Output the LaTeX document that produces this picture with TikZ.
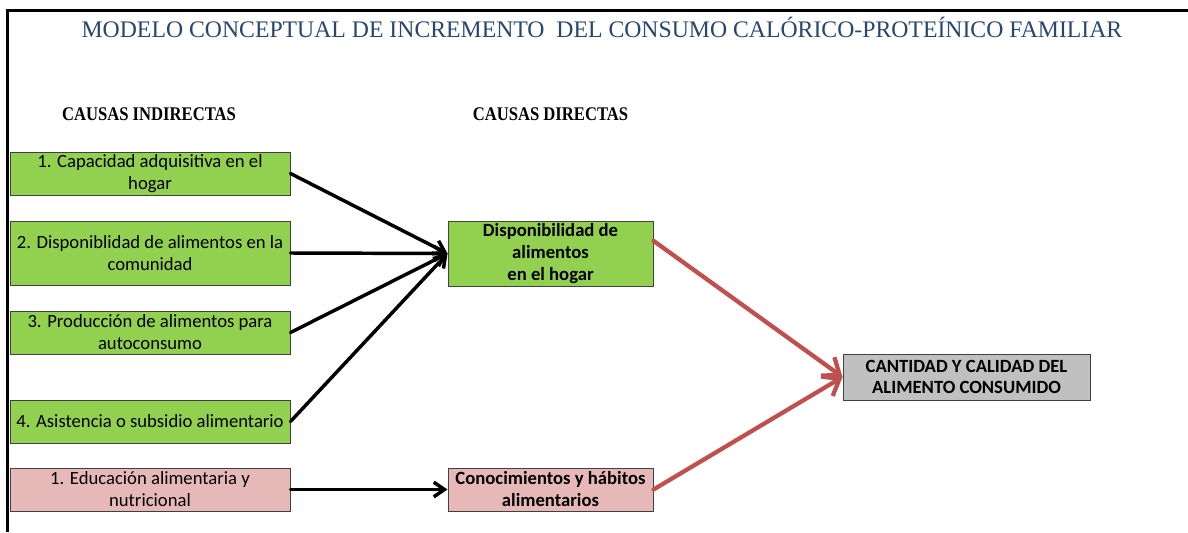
\documentclass[tikz,border=0pt]{standalone}
\usepackage{fontspec}
\setmainfont{Carlito}
\newfontfamily\titulofont{Liberation Serif}
\newfontfamily\causafont[FakeStretch=0.86]{Liberation Serif}
\usetikzlibrary{arrows.meta}

\definecolor{verde}{HTML}{92D050}
\definecolor{rosa}{HTML}{E6B9B8}
\definecolor{gris}{HTML}{C0C0C0}
\definecolor{rojo}{HTML}{C0504D}
\definecolor{azultitulo}{RGB}{40,70,110}

\begin{document}
\begin{tikzpicture}[%
    x=0.75pt, y=-0.75pt,
    caja/.style={draw=black!75, line width=0.75pt, inner sep=0pt, align=center,
                 font=\fontsize{14}{16.5}\selectfont},
    indirecta/.style={caja, fill=verde, minimum width=210pt, minimum height=32.25pt},
    educacion/.style={indirecta, fill=rosa},
    directa/.style={caja, fill=verde, minimum width=153.75pt, minimum height=48.75pt,
                    font=\fontsize{14}{16.5}\selectfont\bfseries},
    resultado/.style={caja, fill=gris, minimum width=185.25pt, minimum height=34.5pt,
                      font=\fontsize{14}{16}\selectfont\bfseries},
    cabecera/.style={font=\causafont\fontsize{14.5}{16}\selectfont\bfseries},
    flecha/.style={-{Straight Barb[length=8pt,width=11pt]}, line width=2.6pt, line cap=round},
    flecharoja/.style={-{Straight Barb[length=11pt,width=17pt]}, draw=rojo,
                       line width=3.2pt, line cap=round}
  ]
    \useasboundingbox (0,0) rectangle (1188,532);

    % marco
    \draw[line width=2.25pt] (1188,10) -- (7.5,10) -- (7.5,532);

    \node[font=\titulofont\fontsize{17.8}{20}\selectfont, text=azultitulo] (T) at (602,27)
      {MODELO CONCEPTUAL DE INCREMENTO\ \ DEL CONSUMO CALÓRICO-PROTEÍNICO FAMILIAR};
    \node[cabecera] (H1) at (149,114) {CAUSAS INDIRECTAS};
    \node[cabecera] (H2) at (550.5,114) {CAUSAS DIRECTAS};

    % causas indirectas
    \node[indirecta] (I1) at (150,173.5) {1. Capacidad adquisitiva en el\\hogar};
    \node[indirecta, minimum height=48pt] (I2) at (150,253) {2. Disponiblidad de alimentos en la\\comunidad};
    \node[indirecta] (I3) at (150,332.5) {3. Producción de alimentos para\\autoconsumo};
    \node[indirecta] (I4) at (150,421.5) {4. Asistencia o subsidio alimentario};
    \node[educacion] (I5) at (150,489.5) {1. Educación alimentaria y\\nutricional};

    % causas directas
    \node[directa] (D1) at (550.5,253.5) {Disponibilidad de\\alimentos\\en el hogar};
    \node[directa, fill=rosa, minimum height=32.25pt] (D2) at (550.5,489.5) {Conocimientos y hábitos\\alimentarios};

    \node[resultado] (R) at (966.5,377) {CANTIDAD Y CALIDAD DEL\\ALIMENTO CONSUMIDO};

    \draw[flecha] (I1.east) -- (D1.west);
    \draw[flecha] (I2.east) -- (D1.west);
    \draw[flecha] (I3.east) -- (D1.west);
    \draw[flecha] (I4.east) -- (D1.west);
    \draw[flecha] (I5.east) -- (D2.west);

    \draw[flecharoja] (D1.7) -- (R.west);
    \draw[flecharoja] (D2.east) -- (R.west);
\end{tikzpicture}
\end{document}
